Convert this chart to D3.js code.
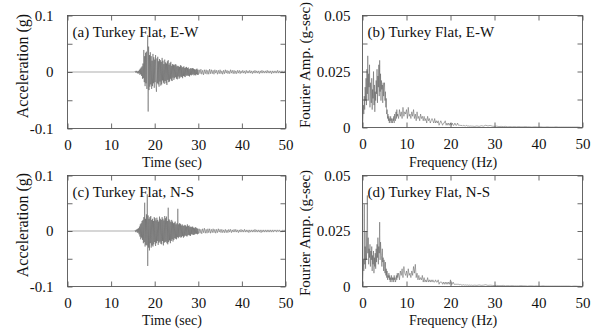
<!DOCTYPE html>
<html>
<head>
<meta charset="utf-8">
<script src="https://cdn.jsdelivr.net/npm/d3@7"></script>
<style>
  html, body { margin: 0; padding: 0; background: #fff; }
  svg { display: block; }
  text { font-family: "Liberation Serif", "Times New Roman", serif; fill: #111; }
</style>
</head>
<body>
<svg id="chart" width="599" height="332"></svg>
<script>
// ---------------- DATA ----------------
const panelTitles = ["(a) Turkey Flat, E-W", "(b) Turkey Flat, E-W", "(c) Turkey Flat, N-S", "(d) Turkey Flat, N-S"];
const timeTicks = [0, 10, 20, 30, 40, 50];
const freqTicks = [0, 10, 20, 30, 40, 50];
const accTicks = [-0.1, -0.05, 0, 0.05, 0.1];
const accTickLabels = ["-0.1", "", "0", "", "0.1"];
const ampTicks = [0, 0.0125, 0.025, 0.0375, 0.05];
const ampTickLabels = ["0", "", "0.025", "", "0.05"];

// acceleration (g): quiet pre-event (t = 0, 15.4 s)
const ewPre = [0, 0];
const nsPre = [0, 0];
// strong motion, t = 15.5 ... 30.0 s, every 0.1 s
const ewMain = [
  0.001,-0.001,0.002,-0.001,0.002,-0.002,0.001,-0.003,0.002,-0.002,
  0.004,-0.005,0.006,-0.004,0.008,-0.007,0.010,-0.012,0.015,-0.011,
  0.039,-0.018,0.028,-0.025,0.034,-0.020,0.036,-0.030,0.025,0.065,
  -0.070,0.045,-0.032,0.030,-0.026,0.035,-0.022,0.028,-0.030,0.020,
  -0.025,0.032,-0.020,0.026,-0.028,0.022,-0.018,0.030,-0.024,-0.035,
  0.024,-0.020,0.027,-0.022,0.019,-0.026,0.023,-0.017,0.021,-0.024,
  0.018,-0.022,0.025,-0.015,0.020,-0.019,0.014,-0.021,0.022,-0.016,
  0.017,-0.020,0.015,-0.023,0.019,-0.014,0.021,-0.018,0.013,-0.017,
  0.016,-0.012,0.018,-0.015,0.011,-0.016,0.014,-0.010,0.013,-0.014,
  0.012,-0.011,0.014,-0.009,0.013,-0.012,0.010,-0.013,0.011,-0.008,
  0.010,-0.012,0.009,-0.010,0.012,-0.008,0.011,-0.009,0.008,-0.011,
  0.009,-0.007,0.010,-0.008,0.007,-0.009,0.008,-0.006,0.009,-0.007,
  0.007,-0.006,0.008,-0.007,0.005,-0.008,0.006,-0.005,0.007,-0.006,
  0.006,-0.005,0.007,-0.004,0.006,-0.006,0.005,-0.005,0.004,-0.006,
  0.005,-0.004,0.006,-0.005,0.004,-0.005
];
const nsMain = [
  0.001,-0.002,0.002,-0.001,0.003,-0.003,0.004,-0.003,0.005,-0.006,
  0.008,-0.010,0.012,-0.015,0.014,-0.012,0.018,-0.016,0.020,-0.022,
  0.025,-0.020,0.051,-0.028,0.022,-0.025,0.030,-0.026,0.066,-0.063,
  0.028,-0.030,0.022,-0.035,0.025,-0.022,0.027,-0.030,0.020,-0.026,
  0.022,-0.028,0.018,-0.024,0.025,-0.020,0.023,-0.027,0.019,-0.022,
  0.024,-0.018,0.020,-0.025,0.017,-0.021,0.026,-0.019,0.022,-0.023,
  0.020,-0.024,0.025,-0.018,0.022,-0.026,0.019,-0.021,0.027,-0.020,
  0.023,-0.019,0.026,-0.022,0.018,-0.024,0.042,-0.020,0.021,-0.017,
  0.019,-0.022,0.016,-0.018,0.020,-0.015,0.017,-0.019,0.014,-0.016,
  0.015,-0.013,0.017,-0.014,0.012,-0.015,0.014,-0.011,0.040,-0.013,
  0.012,-0.011,0.014,-0.010,0.013,-0.012,0.010,-0.011,0.012,-0.009,
  0.010,-0.012,0.009,-0.010,0.011,-0.008,0.010,-0.009,0.008,-0.010,
  0.012,-0.008,0.009,-0.007,0.010,-0.008,0.007,-0.009,0.008,-0.006,
  0.007,-0.006,0.008,-0.007,0.006,-0.007,0.005,-0.006,0.007,-0.005,
  0.006,-0.005,0.005,-0.006,0.004,-0.005
];
// coda, t = 30.2 ... 50.0 s, every 0.2 s
const ewTail = [
  0.004,-0.003,0.005,-0.004,0.003,-0.005,0.004,-0.003,0.004,-0.004,
  0.003,-0.004,0.005,-0.003,0.004,-0.003,0.003,-0.004,0.004,-0.002,
  0.003,-0.004,0.003,-0.003,0.004,-0.003,0.002,-0.004,0.003,-0.003,
  0.004,-0.002,0.003,-0.003,0.002,-0.003,0.004,-0.002,0.003,-0.003,
  0.003,-0.003,0.002,-0.003,0.003,-0.002,0.003,-0.003,0.002,-0.002,
  0.003,-0.002,0.002,-0.003,0.003,-0.002,0.002,-0.002,0.003,-0.002,
  0.002,-0.003,0.002,-0.002,0.003,-0.002,0.002,-0.002,0.002,-0.003,
  0.002,-0.002,0.003,-0.002,0.002,-0.002,0.002,-0.002,0.003,-0.002,
  0.002,-0.002,0.002,-0.003,0.002,-0.002,0.002,-0.002,0.002,-0.002,
  0.003,-0.002,0.002,-0.002,0.002,-0.002,0.002,-0.002,0.002,-0.001
];
const nsTail = [
  0.004,-0.004,0.003,-0.005,0.004,-0.003,0.005,-0.004,0.003,-0.004,
  0.004,-0.003,0.004,-0.004,0.003,-0.003,0.004,-0.003,0.003,-0.004,
  0.003,-0.003,0.004,-0.002,0.003,-0.003,0.003,-0.003,0.002,-0.003,
  0.003,-0.003,0.002,-0.003,0.003,-0.002,0.003,-0.003,0.002,-0.002,
  0.003,-0.002,0.003,-0.002,0.002,-0.003,0.002,-0.002,0.003,-0.002,
  0.002,-0.002,0.003,-0.002,0.002,-0.002,0.002,-0.003,0.002,-0.002,
  0.002,-0.002,0.002,-0.002,0.003,-0.002,0.002,-0.002,0.002,-0.002,
  0.002,-0.003,0.002,-0.002,0.002,-0.002,0.002,-0.002,0.002,-0.002,
  0.002,-0.002,0.002,-0.002,0.002,-0.002,0.002,-0.001,0.002,-0.002,
  0.002,-0.001,0.002,-0.002,0.001,-0.002,0.002,-0.001,0.002,-0.001
];

// Fourier amplitude (g-sec): 0.0 ... 7.9 Hz every 0.1 Hz
const ewSpecLow = [
  0.000,0.004,0.010,0.006,0.014,0.008,0.018,0.012,0.022,0.010,
  0.026,0.015,0.032,0.012,0.024,0.018,0.028,0.009,0.020,0.014,
  0.011,0.022,0.008,0.017,0.013,0.025,0.010,0.019,0.007,0.016,
  0.012,0.021,0.015,0.026,0.011,0.023,0.018,0.028,0.014,0.030,
  0.016,0.024,0.012,0.021,0.017,0.019,0.011,0.020,0.014,0.018,
  0.020,0.012,0.016,0.009,0.013,0.006,0.008,0.004,0.006,0.003,
  0.005,0.002,0.004,0.003,0.005,0.002,0.004,0.003,0.002,0.004,
  0.003,0.005,0.002,0.006,0.004,0.003,0.007,0.004,0.008,0.005
];
const nsSpecLow = [
  0.000,0.005,0.012,0.007,0.037,0.010,0.018,0.008,0.025,0.012,
  0.020,0.041,0.015,0.022,0.010,0.017,0.013,0.019,0.009,0.016,
  0.012,0.018,0.007,0.014,0.010,0.016,0.006,0.013,0.009,0.015,
  0.008,0.017,0.011,0.019,0.013,0.022,0.010,0.018,0.015,0.029,
  0.012,0.020,0.016,0.014,0.009,0.017,0.011,0.013,0.007,0.012,
  0.009,0.006,0.011,0.005,0.008,0.004,0.007,0.003,0.005,0.004,
  0.006,0.003,0.005,0.002,0.004,0.003,0.005,0.002,0.004,0.003,
  0.004,0.002,0.005,0.003,0.004,0.002,0.003,0.005,0.003,0.006
];
// 8.0 ... 24.8 Hz every 0.2 Hz
const ewSpecMid = [
  0.006,0.004,0.008,0.005,0.007,0.004,0.009,0.005,0.007,0.006,
  0.008,0.004,0.009,0.005,0.006,0.004,0.007,0.005,0.008,0.004,
  0.006,0.003,0.007,0.004,0.005,0.003,0.006,0.004,0.005,0.003,
  0.005,0.003,0.004,0.002,0.005,0.003,0.004,0.002,0.003,0.004,
  0.003,0.002,0.004,0.002,0.003,0.002,0.003,0.001,0.002,0.003,
  0.002,0.001,0.002,0.002,0.003,0.001,0.002,0.001,0.002,0.001,
  0.002,0.001,0.002,0.001,0.001,0.002,0.001,0.001,0.002,0.001,
  0.001,0.001,0.0008,0.001,0.0006,0.001,0.0008,0.0006,0.001,0.0007,
  0.0006,0.0008,0.0005,0.0007,0.0006
];
const nsSpecMid = [
  0.004,0.006,0.003,0.007,0.005,0.008,0.004,0.009,0.006,0.005,
  0.007,0.004,0.008,0.005,0.006,0.004,0.007,0.005,0.009,0.006,
  0.010,0.004,0.006,0.003,0.005,0.003,0.004,0.003,0.005,0.002,
  0.004,0.002,0.003,0.002,0.004,0.002,0.003,0.002,0.003,0.002,
  0.003,0.002,0.002,0.003,0.002,0.002,0.003,0.001,0.002,0.002,
  0.002,0.001,0.002,0.001,0.002,0.001,0.002,0.001,0.002,0.001,
  0.003,0.001,0.001,0.002,0.001,0.001,0.001,0.001,0.001,0.001,
  0.0008,0.001,0.0006,0.0008,0.0006,0.0008,0.0006,0.0007,0.0006,0.0007,
  0.0006,0.0005,0.0007,0.0005,0.0006
];
// 25.0 ... 49.5 Hz every 0.5 Hz
const ewSpecHigh = [
  0.0006,0.0005,0.0007,0.0005,0.0008,0.0006,0.0010,0.0007,0.0009,0.0006,
  0.0005,0.0006,0.0004,0.0005,0.0004,0.0005,0.0003,0.0004,0.0003,0.0004,
  0.0003,0.0004,0.0003,0.0003,0.0004,0.0003,0.0003,0.0002,0.0003,0.0003,
  0.0002,0.0003,0.0002,0.0002,0.0003,0.0002,0.0002,0.0002,0.0003,0.0002,
  0.0002,0.0002,0.0002,0.0002,0.0002,0.0002,0.0002,0.0002,0.0002,0.0001
];
const nsSpecHigh = [
  0.0005,0.0006,0.0005,0.0007,0.0005,0.0006,0.0008,0.0005,0.0006,0.0005,
  0.0004,0.0005,0.0004,0.0004,0.0005,0.0003,0.0004,0.0003,0.0004,0.0003,
  0.0003,0.0003,0.0004,0.0003,0.0003,0.0002,0.0003,0.0003,0.0002,0.0003,
  0.0002,0.0002,0.0003,0.0002,0.0002,0.0002,0.0002,0.0002,0.0002,0.0002,
  0.0002,0.0002,0.0002,0.0002,0.0002,0.0001,0.0002,0.0002,0.0001,0.0001
];

// ---------------- BUILD ----------------
function series(segs) {
  return segs.flatMap(s => s.values.map((v, i) => ({ x: s.start + i * s.step, v })));
}
const ewAcc = series([{start:0, step:15.4, values:ewPre},{start:15.5, step:0.1, values:ewMain},{start:30.2, step:0.2, values:ewTail}]);
const nsAcc = series([{start:0, step:15.4, values:nsPre},{start:15.5, step:0.1, values:nsMain},{start:30.2, step:0.2, values:nsTail}]);
const ewSpec = series([{start:0, step:0.1, values:ewSpecLow},{start:8, step:0.2, values:ewSpecMid},{start:25, step:0.5, values:ewSpecHigh}]);
const nsSpec = series([{start:0, step:0.1, values:nsSpecLow},{start:8, step:0.2, values:nsSpecMid},{start:25, step:0.5, values:nsSpecHigh}]);

const svg = d3.select("#chart");

const panels = [
  { box:[67.5, 15.5, 285.5, 128.5], data: ewAcc, yDomain:[-0.1,0.1], yTicks:accTicks, yLabels:accTickLabels,
    xTicks: timeTicks, xTitle:"Time (sec)", yTitle:"Acceleration (g)", title:panelTitles[0],
    yPad:14, xPad:10.5, xTitleX:172, xTitleY:166.5, yTitleX:28, yTitleY:66, yTitleSize:16 },
  { box:[362.5, 15.5, 582.5, 127.5], data: ewSpec, yDomain:[0,0.05], yTicks:ampTicks, yLabels:ampTickLabels,
    xTicks: freqTicks, xTitle:"Frequency (Hz)", yTitle:"Fourier Amp. (g-sec)", title:panelTitles[1],
    yPad:12, xPad:10.5, xTitleX:453, xTitleY:166.5, yTitleX:310, yTitleY:65, yTitleSize:15 },
  { box:[67.5, 175.5, 285.5, 286.5], data: nsAcc, yDomain:[-0.1,0.1], yTicks:accTicks, yLabels:accTickLabels,
    xTicks: timeTicks, xTitle:"Time (sec)", yTitle:"Acceleration (g)", title:panelTitles[2],
    yPad:14, xPad:11, xTitleX:172, xTitleY:325, yTitleX:28, yTitleY:225, yTitleSize:16 },
  { box:[362.5, 175.5, 582.5, 286.5], data: nsSpec, yDomain:[0,0.05], yTicks:ampTicks, yLabels:ampTickLabels,
    xTicks: freqTicks, xTitle:"Frequency (Hz)", yTitle:"Fourier Amp. (g-sec)", title:panelTitles[3],
    yPad:12, xPad:11, xTitleX:453, xTitleY:325, yTitleX:310, yTitleY:233, yTitleSize:15 }
];

const tickCol = "#444";

panels.forEach(p => {
  const [x0, y0, x1, y1] = p.box;
  const x = d3.scaleLinear().domain([0, 50]).range([x0, x1]);
  const y = d3.scaleLinear().domain(p.yDomain).range([y1, y0]);
  const g = svg.append("g");

  // trace
  g.append("path")
    .datum(p.data)
    .attr("fill", "none")
    .attr("stroke", "#4a4a4a")
    .attr("stroke-width", 0.45)
    .attr("d", d3.line().x(d => x(d.x)).y(d => y(Math.max(p.yDomain[0], Math.min(p.yDomain[1], d.v)))));

  // axes (ticks inward, mirrored)
  const fmtY = v => p.yLabels[p.yTicks.indexOf(v)];
  const bottom = g.append("g").attr("transform", `translate(0,${y1})`)
    .call(d3.axisBottom(x).tickValues(p.xTicks).tickSizeInner(-5).tickSizeOuter(0).tickPadding(p.xPad).tickFormat(d3.format("d")));
  const top = g.append("g").attr("transform", `translate(0,${y0})`)
    .call(d3.axisTop(x).tickValues(p.xTicks).tickSizeInner(-5).tickSizeOuter(0).tickFormat(""));
  const left = g.append("g").attr("transform", `translate(${x0},0)`)
    .call(d3.axisLeft(y).tickValues(p.yTicks).tickSizeInner(-5).tickSizeOuter(0).tickPadding(p.yPad).tickFormat(fmtY));
  const right = g.append("g").attr("transform", `translate(${x1},0)`)
    .call(d3.axisRight(y).tickValues(p.yTicks).tickSizeInner(-5).tickSizeOuter(0).tickFormat(""));
  [bottom, top, left, right].forEach(a => {
    a.select(".domain").remove();
    a.selectAll("line").attr("stroke", tickCol).attr("stroke-width", 0.8);
    a.selectAll("text").style("font-size", "15px").attr("fill", "#111")
      .style("font-family", '"Liberation Serif", "Times New Roman", serif');
  });
  left.selectAll("text").filter(function() { return this.textContent === ""; }).remove();

  // frame
  g.append("rect")
    .attr("x", x0).attr("y", y0).attr("width", x1 - x0).attr("height", y1 - y0)
    .attr("fill", "none").attr("stroke", "#555").attr("stroke-width", 0.9);

  // panel title
  g.append("text").attr("x", x0 + 5).attr("y", y0 + 21.5)
    .style("font-size", "15px").text(p.title);

  // axis titles
  g.append("text").attr("x", p.xTitleX).attr("y", p.xTitleY)
    .attr("text-anchor", "middle").style("font-size", "14px").text(p.xTitle);
  g.append("text")
    .attr("transform", `translate(${p.yTitleX},${p.yTitleY}) rotate(-90)`)
    .attr("text-anchor", "middle").style("font-size", p.yTitleSize + "px").text(p.yTitle);
});
</script>
</body>
</html>
